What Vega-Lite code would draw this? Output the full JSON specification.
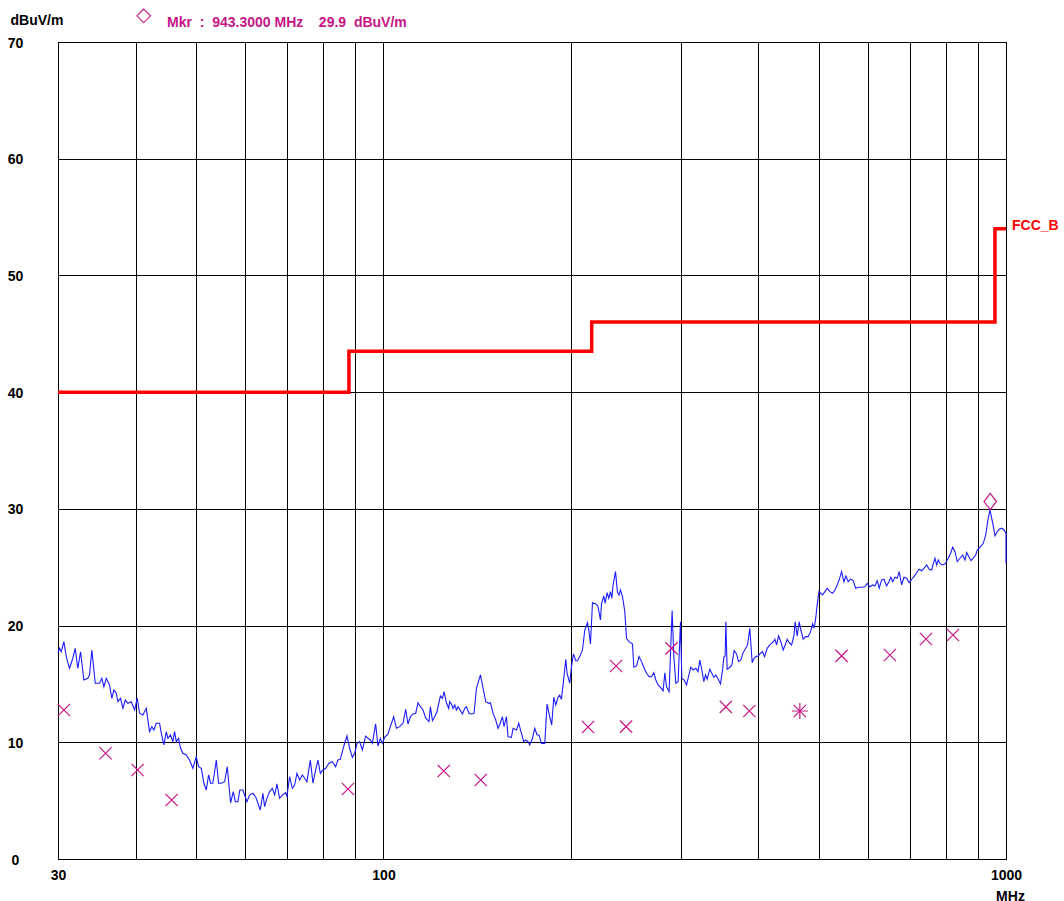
{
 "$schema": "https://vega.github.io/schema/vega-lite/v6.json",
 "width": 948, "height": 817,
 "autosize": {"type": "none"},
 "padding": {"left": 58, "top": 42, "right": 58, "bottom": 42},
 "background": "white",
 "config": {"view": {"stroke": "#000", "strokeWidth": 1}, "font": "Liberation Sans"},
 "title": {"text": "\u25c7", "subtitle": "\u200d\u00a0\u00a0\u00a0\u00a0\u00a0\u00a0\u00a0\u00a0Mkr\u00a0\u00a0:\u00a0\u00a0943.3000\u00a0MHz\u00a0\u00a0\u00a0\u00a029.9\u00a0\u00a0dBuV/m", "anchor": "start", "frame": "group", "dx": 78, "offset": -17, "color": "#c71585", "font": "DejaVu Sans", "fontSize": 20, "fontWeight": "normal", "subtitleColor": "#c71585", "subtitleFont": "Liberation Sans", "subtitleFontSize": 14, "subtitleFontWeight": "bold", "subtitlePadding": -9},
 "datasets": {
  "trace": [
{"freq":30.0,"level":17.63},{"freq":30.17,"level":18.05},{"freq":30.36,"level":17.76},{"freq":30.66,"level":18.62},{"freq":30.93,"level":17.34},{"freq":31.30,"level":16.34},{"freq":31.69,"level":17.20},{"freq":31.97,"level":18.05},{"freq":32.28,"level":16.34},{"freq":32.61,"level":17.76},{"freq":33.01,"level":15.34},{"freq":33.50,"level":15.48},{"freq":33.71,"level":15.77},{"freq":34.00,"level":17.91},{"freq":34.43,"level":15.06},{"freq":34.98,"level":15.06},{"freq":35.28,"level":15.48},{"freq":35.55,"level":14.76},{"freq":35.86,"level":15.48},{"freq":36.30,"level":14.91},{"freq":36.61,"level":13.77},{"freq":36.89,"level":14.48},{"freq":37.22,"level":14.20},{"freq":37.44,"level":13.48},{"freq":37.81,"level":13.77},{"freq":38.14,"level":12.91},{"freq":38.48,"level":13.62},{"freq":38.85,"level":13.34},{"freq":39.34,"level":13.48},{"freq":39.83,"level":12.77},{"freq":40.22,"level":13.77},{"freq":40.56,"level":12.49},{"freq":41.06,"level":12.34},{"freq":41.58,"level":12.91},{"freq":42.09,"level":10.91},{"freq":42.45,"level":11.34},{"freq":42.77,"level":11.05},{"freq":43.15,"level":11.63},{"freq":43.68,"level":11.63},{"freq":43.96,"level":10.77},{"freq":44.39,"level":9.77},{"freq":44.78,"level":10.91},{"freq":45.05,"level":10.34},{"freq":45.49,"level":10.63},{"freq":45.88,"level":10.05},{"freq":46.17,"level":10.91},{"freq":46.47,"level":10.05},{"freq":46.86,"level":10.34},{"freq":47.21,"level":9.49},{"freq":47.62,"level":9.06},{"freq":48.22,"level":8.91},{"freq":48.80,"level":8.48},{"freq":49.41,"level":7.77},{"freq":50.03,"level":8.77},{"freq":50.46,"level":7.91},{"freq":50.97,"level":7.77},{"freq":51.46,"level":6.49},{"freq":51.92,"level":5.91},{"freq":52.36,"level":7.20},{"freq":52.75,"level":6.49},{"freq":53.20,"level":6.49},{"freq":53.88,"level":8.48},{"freq":54.33,"level":6.49},{"freq":54.88,"level":6.49},{"freq":55.56,"level":6.62},{"freq":56.11,"level":7.91},{"freq":56.80,"level":4.82},{"freq":57.38,"level":5.77},{"freq":57.81,"level":4.91},{"freq":58.36,"level":4.91},{"freq":58.79,"level":5.91},{"freq":59.45,"level":5.91},{"freq":59.83,"level":5.48},{"freq":60.34,"level":4.91},{"freq":60.94,"level":5.48},{"freq":61.70,"level":5.63},
{"freq":62.32,"level":5.34},{"freq":62.85,"level":4.77},{"freq":63.40,"level":4.20},{"freq":64.02,"level":5.63},{"freq":64.42,"level":4.48},{"freq":64.97,"level":5.20},{"freq":65.62,"level":5.77},{"freq":66.29,"level":6.06},{"freq":66.86,"level":5.48},{"freq":67.43,"level":6.43},{"freq":68.09,"level":5.20},{"freq":68.78,"level":5.48},{"freq":69.63,"level":5.68},{"freq":69.96,"level":5.40},{"freq":70.66,"level":7.05},{"freq":71.38,"level":6.06},{"freq":71.99,"level":6.34},{"freq":72.60,"level":7.34},{"freq":73.32,"level":6.77},{"freq":74.07,"level":7.20},{"freq":74.70,"level":6.92},{"freq":75.34,"level":6.62},{"freq":76.29,"level":8.48},{"freq":77.04,"level":6.49},{"freq":77.81,"level":7.63},{"freq":78.47,"level":8.48},{"freq":79.17,"level":7.34},{"freq":79.94,"level":7.63},{"freq":80.75,"level":7.77},{"freq":81.73,"level":8.20},{"freq":82.76,"level":8.34},{"freq":83.78,"level":7.91},{"freq":84.49,"level":8.48},{"freq":85.24,"level":8.54},{"freq":86.30,"level":9.62},{"freq":87.36,"level":10.54},{"freq":88.23,"level":9.49},{"freq":89.13,"level":8.71},{"freq":89.89,"level":9.06},{"freq":90.66,"level":9.91},{"freq":91.55,"level":10.05},{"freq":92.48,"level":9.34},{"freq":93.62,"level":10.54},{"freq":94.41,"level":10.34},{"freq":95.25,"level":10.20},{"freq":95.97,"level":9.91},{"freq":97.15,"level":11.57},{"freq":97.97,"level":9.68},{"freq":98.84,"level":10.34},{"freq":99.58,"level":9.91},{"freq":100.44,"level":10.43},{"freq":101.67,"level":10.71},{"freq":102.57,"level":11.34},{"freq":103.84,"level":12.19},{"freq":104.89,"level":11.20},{"freq":106.16,"level":11.34},{"freq":107.48,"level":11.63},{"freq":108.56,"level":12.83},{"freq":109.48,"level":11.57},{"freq":110.45,"level":12.19},{"freq":111.53,"level":12.43},{"freq":112.66,"level":12.49},{"freq":113.61,"level":13.39},{"freq":114.62,"level":13.05},{"freq":115.74,"level":12.77},{"freq":116.91,"level":12.06},{"freq":118.33,"level":11.77},{"freq":118.94,"level":13.05},{"freq":119.84,"level":11.85},{"freq":120.87,"level":12.19},{"freq":121.89,"level":12.62},{"freq":123.42,"level":13.97},{"freq":124.35,"level":13.77},{"freq":125.10,"level":14.34},{"freq":126.21,"level":13.39},{"freq":127.28,"level":12.91},
{"freq":127.74,"level":13.48},{"freq":128.56,"level":13.28},{"freq":129.33,"level":12.91},{"freq":130.15,"level":13.20},{"freq":130.97,"level":12.77},{"freq":131.74,"level":13.05},{"freq":132.56,"level":12.83},{"freq":133.91,"level":12.43},{"freq":135.06,"level":12.91},{"freq":135.90,"level":13.05},{"freq":137.20,"level":12.49},{"freq":138.43,"level":12.43},{"freq":139.78,"level":12.49},{"freq":141.03,"level":14.63},{"freq":143.12,"level":15.77},{"freq":144.52,"level":14.63},{"freq":145.97,"level":13.48},{"freq":147.74,"level":13.34},{"freq":148.51,"level":13.39},{"freq":149.96,"level":12.49},{"freq":151.47,"level":11.91},{"freq":152.75,"level":11.20},{"freq":154.11,"level":11.68},{"freq":155.27,"level":12.19},{"freq":156.19,"level":11.34},{"freq":157.59,"level":12.19},{"freq":158.51,"level":10.48},{"freq":160.52,"level":10.43},{"freq":161.48,"level":11.20},{"freq":163.53,"level":11.05},{"freq":164.91,"level":11.63},{"freq":166.57,"level":10.77},{"freq":168.01,"level":10.05},{"freq":169.25,"level":10.20},{"freq":170.69,"level":10.05},{"freq":171.75,"level":9.77},{"freq":173.50,"level":10.34},{"freq":174.99,"level":11.20},{"freq":176.47,"level":10.63},{"freq":177.77,"level":10.63},{"freq":179.36,"level":9.91},{"freq":181.58,"level":9.91},{"freq":183.13,"level":13.28},{"freq":184.94,"level":12.19},{"freq":186.33,"level":11.48},{"freq":187.73,"level":13.86},{"freq":189.12,"level":13.20},{"freq":190.73,"level":13.86},{"freq":191.91,"level":14.05},{"freq":193.14,"level":13.68},{"freq":194.81,"level":15.48},{"freq":196.25,"level":17.11},{"freq":197.20,"level":15.91},{"freq":199.15,"level":15.06},{"freq":200.43,"level":16.48},{"freq":201.93,"level":17.57},{"freq":203.66,"level":16.99},{"freq":204.93,"level":16.99},{"freq":206.66,"level":17.34},{"freq":208.76,"level":17.91},{"freq":210.56,"level":19.62},{"freq":212.66,"level":20.25},{"freq":213.90,"level":19.48},{"freq":215.02,"level":18.42},{"freq":216.63,"level":21.96},{"freq":219.30,"level":21.85},{"freq":221.16,"level":21.62},{"freq":223.12,"level":20.48},{"freq":223.96,"level":21.85},{"freq":225.89,"level":22.54},{"freq":226.98,"level":21.91},{"freq":228.66,"level":22.82},{"freq":230.08,"level":22.34},{"freq":231.53,"level":22.91},{"freq":232.66,"level":22.34},{"freq":233.79,"level":23.48},{"freq":235.88,"level":24.62},{"freq":237.63,"level":22.82},{"freq":239.02,"level":22.62},{"freq":240.26,"level":23.05},{"freq":242.07,"level":22.48},{"freq":244.15,"level":21.19},{"freq":245.68,"level":18.91},{"freq":248.03,"level":18.62},{"freq":251.19,"level":18.42},{"freq":252.41,"level":16.43},{"freq":254.94,"level":16.54},{"freq":257.38,"level":17.34},{"freq":259.69,"level":16.91},{"freq":261.93,"level":16.43},{"freq":264.56,"level":15.91},{"freq":267.09,"level":15.62},
{"freq":269.49,"level":15.62},{"freq":271.81,"level":15.96},{"freq":273.82,"level":15.34},{"freq":276.14,"level":14.91},{"freq":278.59,"level":14.71},{"freq":281.32,"level":14.42},{"freq":283.10,"level":15.96},{"freq":284.88,"level":14.76},{"freq":287.61,"level":14.34},{"freq":289.10,"level":17.63},{"freq":290.84,"level":21.28},{"freq":292.69,"level":17.34},{"freq":294.86,"level":15.06},{"freq":297.36,"level":15.19},{"freq":300.00,"level":20.33},{"freq":301.47,"level":15.48},{"freq":304.06,"level":15.34},{"freq":306.77,"level":14.91},{"freq":309.02,"level":15.62},{"freq":311.66,"level":16.43},{"freq":314.35,"level":16.20},{"freq":317.51,"level":16.34},{"freq":320.20,"level":16.05},{"freq":322.19,"level":17.05},{"freq":324.62,"level":16.20},{"freq":327.05,"level":15.19},{"freq":329.12,"level":15.77},{"freq":331.06,"level":15.40},{"freq":334.34,"level":16.26},{"freq":336.48,"level":15.96},{"freq":339.38,"level":15.57},{"freq":341.90,"level":15.77},{"freq":344.80,"level":15.40},{"freq":347.86,"level":15.00},{"freq":350.47,"level":16.20},{"freq":352.17,"level":17.28},{"freq":353.87,"level":17.40},{"freq":354.79,"level":20.33},{"freq":356.49,"level":16.26},{"freq":360.02,"level":16.43},{"freq":362.74,"level":16.62},{"freq":365.86,"level":17.85},{"freq":369.12,"level":17.57},{"freq":371.83,"level":16.91},{"freq":375.01,"level":17.05},{"freq":378.25,"level":17.68},{"freq":381.06,"level":17.97},{"freq":384.44,"level":18.34},{"freq":387.68,"level":19.77},{"freq":391.04,"level":16.82},{"freq":393.53,"level":17.20},{"freq":396.45,"level":17.34},{"freq":399.81,"level":17.40},{"freq":403.36,"level":17.63},{"freq":406.40,"level":17.76},{"freq":409.43,"level":17.34},{"freq":413.37,"level":18.05},{"freq":417.47,"level":18.34},{"freq":421.72,"level":18.53},{"freq":425.34,"level":18.83},{"freq":428.02,"level":18.34},{"freq":431.16,"level":19.11},{"freq":434.84,"level":18.62},{"freq":438.60,"level":17.91},{"freq":441.86,"level":18.34},{"freq":445.13,"level":18.83},{"freq":448.40,"level":18.53},{"freq":452.42,"level":18.34},{"freq":456.32,"level":19.11},{"freq":458.52,"level":20.33},{"freq":461.91,"level":19.11},{"freq":465.30,"level":20.33},{"freq":468.25,"level":19.62},{"freq":472.29,"level":18.83},{"freq":476.52,"level":19.05},{"freq":481.09,"level":19.05},{"freq":485.36,"level":19.48},{"freq":489.01,"level":20.14},{"freq":491.93,"level":19.77},{"freq":495.03,"level":20.76},{"freq":497.40,"level":21.77},{"freq":500.51,"level":22.91},
{"freq":507.44,"level":22.62},{"freq":511.80,"level":22.91},{"freq":516.16,"level":23.20},{"freq":521.27,"level":22.91},{"freq":526.58,"level":22.77},{"freq":531.10,"level":23.05},{"freq":535.61,"level":23.48},{"freq":539.54,"level":23.91},{"freq":544.39,"level":24.62},{"freq":549.08,"level":23.76},{"freq":553.15,"level":24.25},{"freq":557.84,"level":23.76},{"freq":562.79,"level":23.97},{"freq":568.30,"level":23.85},{"freq":573.38,"level":23.20},{"freq":578.88,"level":23.28},{"freq":586.21,"level":23.28},{"freq":593.46,"level":23.33},{"freq":598.51,"level":23.62},{"freq":604.44,"level":23.33},{"freq":610.59,"level":23.48},{"freq":615.84,"level":23.39},{"freq":621.08,"level":23.85},{"freq":625.63,"level":23.20},{"freq":631.25,"level":23.91},{"freq":636.69,"level":23.97},{"freq":643.07,"level":23.39},{"freq":648.51,"level":23.76},{"freq":653.32,"level":24.14},{"freq":657.50,"level":23.76},{"freq":663.14,"level":24.14},{"freq":668.78,"level":24.05},{"freq":673.69,"level":24.62},{"freq":679.74,"level":23.48},{"freq":685.60,"level":24.14},{"freq":692.47,"level":24.05},{"freq":699.10,"level":23.68},{"freq":705.37,"level":23.97},{"freq":711.45,"level":24.19},{"freq":718.58,"level":24.53},{"freq":724.66,"level":24.82},{"freq":731.96,"level":24.70},{"freq":738.27,"level":24.91},{"freq":745.67,"level":25.19},{"freq":752.80,"level":24.82},{"freq":759.56,"level":24.76},{"freq":764.11,"level":25.28},{"freq":768.95,"level":25.77},{"freq":773.79,"level":25.19},{"freq":778.34,"level":25.62},{"freq":783.18,"level":25.34},{"freq":789.97,"level":25.19},{"freq":797.95,"level":25.28},{"freq":807.69,"level":25.77},{"freq":814.85,"level":26.20},{"freq":820.98,"level":26.71},{"freq":828.03,"level":26.33},{"freq":835.08,"level":25.48},{"freq":843.35,"level":25.77},{"freq":851.94,"level":26.05},{"freq":859.25,"level":25.62},{"freq":864.66,"level":26.25},{"freq":871.97,"level":25.90},{"freq":878.45,"level":25.56},{"freq":886.04,"level":25.77},{"freq":893.95,"level":26.05},{"freq":899.23,"level":26.48},{"freq":908.14,"level":26.71},{"freq":919.44,"level":27.05},{"freq":927.66,"level":27.76},{"freq":934.50,"level":28.90},{"freq":942.38,"level":29.91},{"freq":951.97,"level":28.77},{"freq":960.15,"level":27.68},{"freq":968.32,"level":28.05},{"freq":975.42,"level":28.25},{"freq":984.18,"level":28.34},{"freq":992.67,"level":28.19},{"freq":1000,"level":27.91},{"freq":1000,"level":25.34}
  ],
  "limit": [
   {"freq": 30, "level": 40}, {"freq": 88, "level": 43.5}, {"freq": 216, "level": 46}, {"freq": 960, "level": 54}, {"freq": 1000, "level": 54}
  ],
  "limitName": [{"freq": 1000, "level": 54, "name": "FCC_B"}],
  "qp": [
   {"freq": 30.66, "level": 12.77, "star": false},
   {"freq": 35.77, "level": 9.06, "star": false},
   {"freq": 40.27, "level": 7.63, "star": false},
   {"freq": 45.66, "level": 5.06, "star": false},
   {"freq": 87.68, "level": 6.0, "star": false},
   {"freq": 124.96, "level": 7.54, "star": false},
   {"freq": 143.28, "level": 6.77, "star": false},
   {"freq": 213.13, "level": 11.31, "star": false},
   {"freq": 236.41, "level": 16.54, "star": false},
   {"freq": 245.32, "level": 11.34, "star": false},
   {"freq": 290.19, "level": 18.05, "star": false},
   {"freq": 354.79, "level": 13.03, "star": false},
   {"freq": 386.98, "level": 12.68, "star": false},
   {"freq": 466.49, "level": 12.68, "star": true},
   {"freq": 544.39, "level": 17.40, "star": false},
   {"freq": 650.87, "level": 17.48, "star": false},
   {"freq": 743.75, "level": 18.85, "star": false},
   {"freq": 821.90, "level": 19.19, "star": false}
  ],
  "marker": [{"freq": 943.3, "level": 29.9}]
 },
 "encoding": {
  "x": {"field": "freq", "type": "quantitative",
   "scale": {"type": "log", "domain": [30, 1000], "nice": false, "zero": false},
   "axis": {"values": [30,40,50,60,70,80,90,100,200,300,400,500,600,700,800,900,1000],
    "labelExpr": "(datum.value==30||datum.value==100||datum.value==1000)?format(datum.value,'d'):''",
    "grid": true, "gridColor": "#000", "gridOpacity": 1, "gridWidth": 1,
    "ticks": false, "tickSize": 0, "domain": true, "domainColor": "#000",
    "labelFont": "Liberation Sans", "labelFontWeight": "bold", "labelFontSize": 14, "labelColor": "#000",
    "labelPadding": 9, "labelBaseline": "top", "labelFlush": false, "labelOverlap": false, "labelBound": false,
    "title": "MHz", "titleX": 952, "titleY": 41, "titleAlign": "center", "titleBaseline": "alphabetic",
    "titleFont": "Liberation Sans", "titleFontWeight": "bold", "titleFontSize": 14, "titleColor": "#000"}},
  "y": {"field": "level", "type": "quantitative",
   "scale": {"domain": [0, 70], "nice": false, "zero": false},
   "axis": {"values": [0,10,20,30,40,50,60,70],
    "grid": true, "gridColor": "#000", "gridOpacity": 1, "gridWidth": 1,
    "ticks": false, "tickSize": 0, "domain": true, "domainColor": "#000",
    "labelFont": "Liberation Sans", "labelFontWeight": "bold", "labelFontSize": 14, "labelColor": "#000",
    "labelAlign": "center", "labelBaseline": "middle", "labelPadding": 43, "labelOffset": 1, "labelOverlap": false, "labelBound": false,
    "title": "dBuV/m", "titleAngle": 0, "titleAlign": "left", "titleBaseline": "alphabetic", "titleX": -48, "titleY": -18,
    "titleFont": "Liberation Sans", "titleFontWeight": "bold", "titleFontSize": 14, "titleColor": "#000"}}
 },
 "layer": [
  {"data": {"name": "trace"}, "mark": {"type": "line", "color": "#1c1cff", "strokeWidth": 1.1}},
  {"data": {"name": "limit"}, "mark": {"type": "line", "color": "#ff0000", "strokeWidth": 3.5, "interpolate": "step-after"}},
  {"data": {"name": "limitName"}, "mark": {"type": "text", "align": "left", "baseline": "middle", "dx": 6, "dy": -3, "font": "Liberation Sans", "fontWeight": "bold", "fontSize": 14, "color": "#ff0000"}, "encoding": {"text": {"field": "name"}}},
  {"data": {"name": "qp"}, "mark": {"type": "point", "shape": "M-1,-1L1,1M-1,1L1,-1", "size": 150, "filled": false, "stroke": "#c71585", "strokeWidth": 1.2, "opacity": 1}},
  {"data": {"name": "qp"}, "transform": [{"filter": "datum.star"}], "mark": {"type": "point", "shape": "M-1,0L1,0M0,-1L0,1", "size": 256, "filled": false, "stroke": "#c71585", "strokeWidth": 1.2, "opacity": 1}},
  {"data": {"name": "marker"}, "mark": {"type": "point", "shape": "M0,-1.3L1,0L0,1.3L-1,0Z", "size": 156, "filled": false, "stroke": "#c71585", "strokeWidth": 1.2, "opacity": 1, "yOffset": -8.5}}
 ]
}
